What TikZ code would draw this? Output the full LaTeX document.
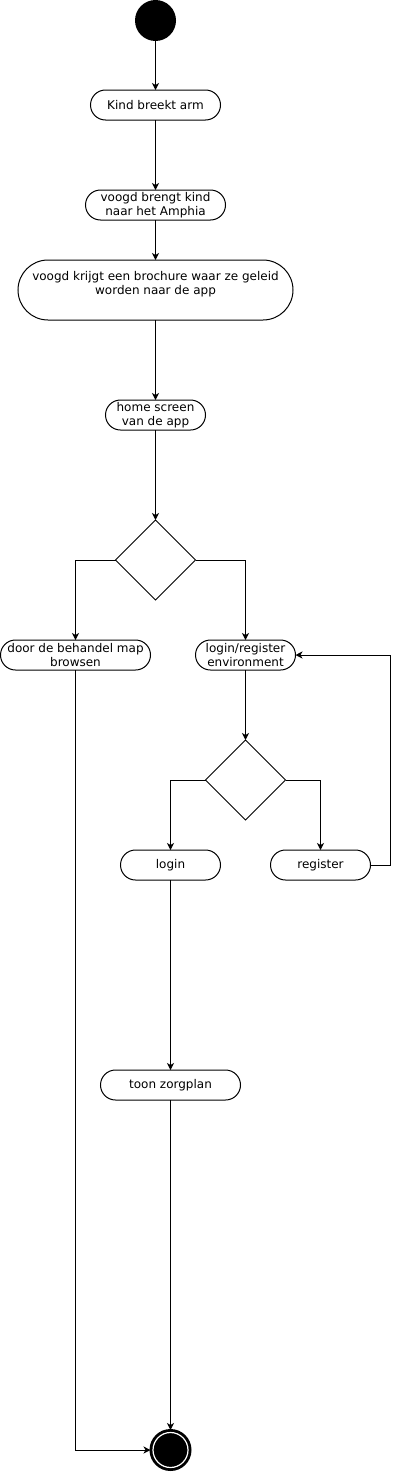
\documentclass[tikz,border=0pt]{standalone}
\usepackage{fontspec}
\setmainfont{DejaVu Sans}
\usepackage{tikz}
\usetikzlibrary{shapes,arrows.meta,positioning,calc}

\begin{document}
\begin{tikzpicture}[x=1pt,y=1pt,line width=1pt,every node/.style={outer sep=0pt},
    act/.style={draw,rounded corners=15pt,minimum height=30pt,inner sep=0pt,
      align=center,font=\fontsize{12}{14.4}\selectfont},
    keuze/.style={draw,diamond,minimum width=80pt,minimum height=80pt,inner sep=0pt},
    flow/.style={-{Stealth[length=7pt,width=7pt,inset=2pt]}}]
      \useasboundingbox (0,0) rectangle (400,-1472);

      \node[circle,fill=black,minimum size=41pt,inner sep=0pt] at (155.5,-20.5)(start){};
      \node[act,minimum width=130pt,below=49pt of start](kind){Kind breekt arm};
      \node[act,minimum width=140pt,below=70pt of kind](brengt){voogd brengt kind\\naar het Amphia};
      \node[act,minimum width=275pt,minimum height=60pt,rounded corners=30pt,
            below=40pt of brengt](brochure){voogd krijgt een brochure waar ze geleid\\worden naar de app\\\mbox{}};
      \node[act,minimum width=100pt,below=80pt of brochure](home){home screen\\van de app};
      \node[keuze,below=90pt of home](keuze1){};
      \node[act,minimum width=150pt] at($(keuze1)+(-80,-95)$)(door){door de behandel map\\browsen};
      \node[act,minimum width=100pt] at($(keuze1)+(90,-95)$)(lr){login/register\\environment};
      \node[keuze,below=70pt of lr](keuze2){};
      \node[act,minimum width=100pt] at($(keuze2)+(-75,-85)$)(login){login};
      \node[act,minimum width=100pt] at($(keuze2)+(75,-85)$)(reg){register};
      \node[act,minimum width=140pt,below=190pt of login](toon){toon zorgplan};
      \node[circle,draw,fill=black,line width=2pt,minimum size=40pt,inner sep=0pt,
            below=330pt of toon,
            path picture={\draw[white,line width=1.2pt] (path picture bounding box.center) circle (17.5pt);}](eind){};

      \draw[flow] (start) -- (kind);
      \draw[flow] (kind) -- (brengt);
      \draw[flow] (brengt) -- (brochure);
      \draw[flow] (brochure) -- (home);
      \draw[flow] (home) -- (keuze1);

      \draw[flow] (keuze1) -| (door);
      \draw[flow] (keuze1) -| (lr);
      \draw[flow] (lr) -- (keuze2);
      \draw[flow] (keuze2) -| (login);
      \draw[flow] (keuze2) -| (reg);
      \draw[flow] (reg.east) -- ++(20,0) |- (lr.east);

      \draw[flow] (login) -- (toon);
      \draw[flow] (toon) -- (eind);
      \draw[flow] (door) |- (eind);
    \end{tikzpicture}
\end{document}
